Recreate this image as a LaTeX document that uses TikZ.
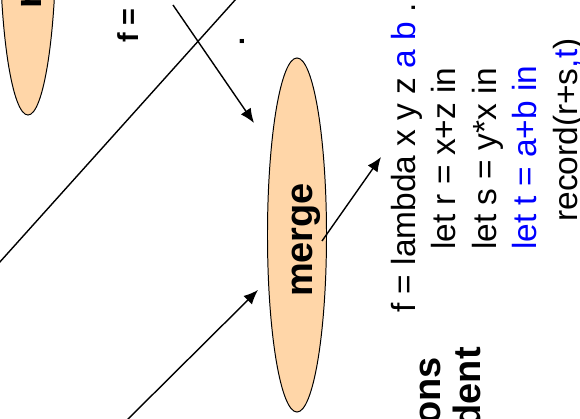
\documentclass[tikz,border=0pt]{standalone}
\usepackage{fontspec}
\setsansfont{Liberation Sans}
\usetikzlibrary{arrows.meta}
\definecolor{peach}{RGB}{255,214,168}
\begin{document}
\begin{tikzpicture}[x=0.025cm,y=0.025cm,font=\sffamily,
	blob/.style={fill=peach,draw=black,line width=.7pt},
	big/.style={font=\sffamily\bfseries\fontsize{27}{30}\selectfont,rotate=90,inner sep=0pt},
	mid/.style={font=\sffamily\bfseries\fontsize{20.5}{24}\selectfont,rotate=90,inner sep=0pt},
	code/.style={font=\sffamily\fontsize{23.8}{28}\selectfont,rotate=90,inner sep=0pt,anchor=base west},
	arr/.style={line width=1pt,-{Latex[length=3.6mm,width=3mm]}}]
	\useasboundingbox (0,0) rectangle (580,419);
	\clip (0,0) rectangle (580,419);
	% ellipses
	\filldraw[blob] (28,481) ellipse (.7cm and 4.425cm);
	\filldraw[blob] (297,184) ellipse (.7375cm and 4.425cm);
	\node[big,anchor=base west] (rn) at (41,410) {r};
	\node[big,anchor=base] (merge) at (312,179) {merge};
	\node[mid,anchor=base west] (fb) at (138,376) {f = l};
	\node[mid,anchor=base] (dot) at (244,377) {.};
	\node[big,anchor=base east] (ons) at (440,62) {ons};
	\node[big,anchor=base east] (dent) at (480,72) {dent};
	% code lines
	\node[code] (l1) at (415,106) {f = lambda x y z \textcolor{blue}{a b} .};
	\node[code] (l2) at (455.5,169) {let r = x+z in};
	\node[code] (l3) at (496,169) {let s = y*x in};
	\node[code,blue] (l4) at (536.5,169) {let t = a+b in};
	\node[code] (l5) at (577,197) {record(r+s\textcolor{blue}{,t})};
	% connectors
	\coordinate (c1) at (-10,146);
	\coordinate (c2) at (245,430);
	\draw[line width=1pt] (c1) -- (c2);
	\coordinate (b0) at (173,414);
	\coordinate (b1) at (254,296);
	\draw[arr] (b0) -- (b1);
	\coordinate (a0) at (118,-10);
	\coordinate (a1) at (258,129);
	\draw[arr] (a0) -- (a1);
	\coordinate (m0) at (322,178);
	\coordinate (m1) at (381,262);
	\draw[arr] (m0) -- (m1);
\end{tikzpicture}
\end{document}
